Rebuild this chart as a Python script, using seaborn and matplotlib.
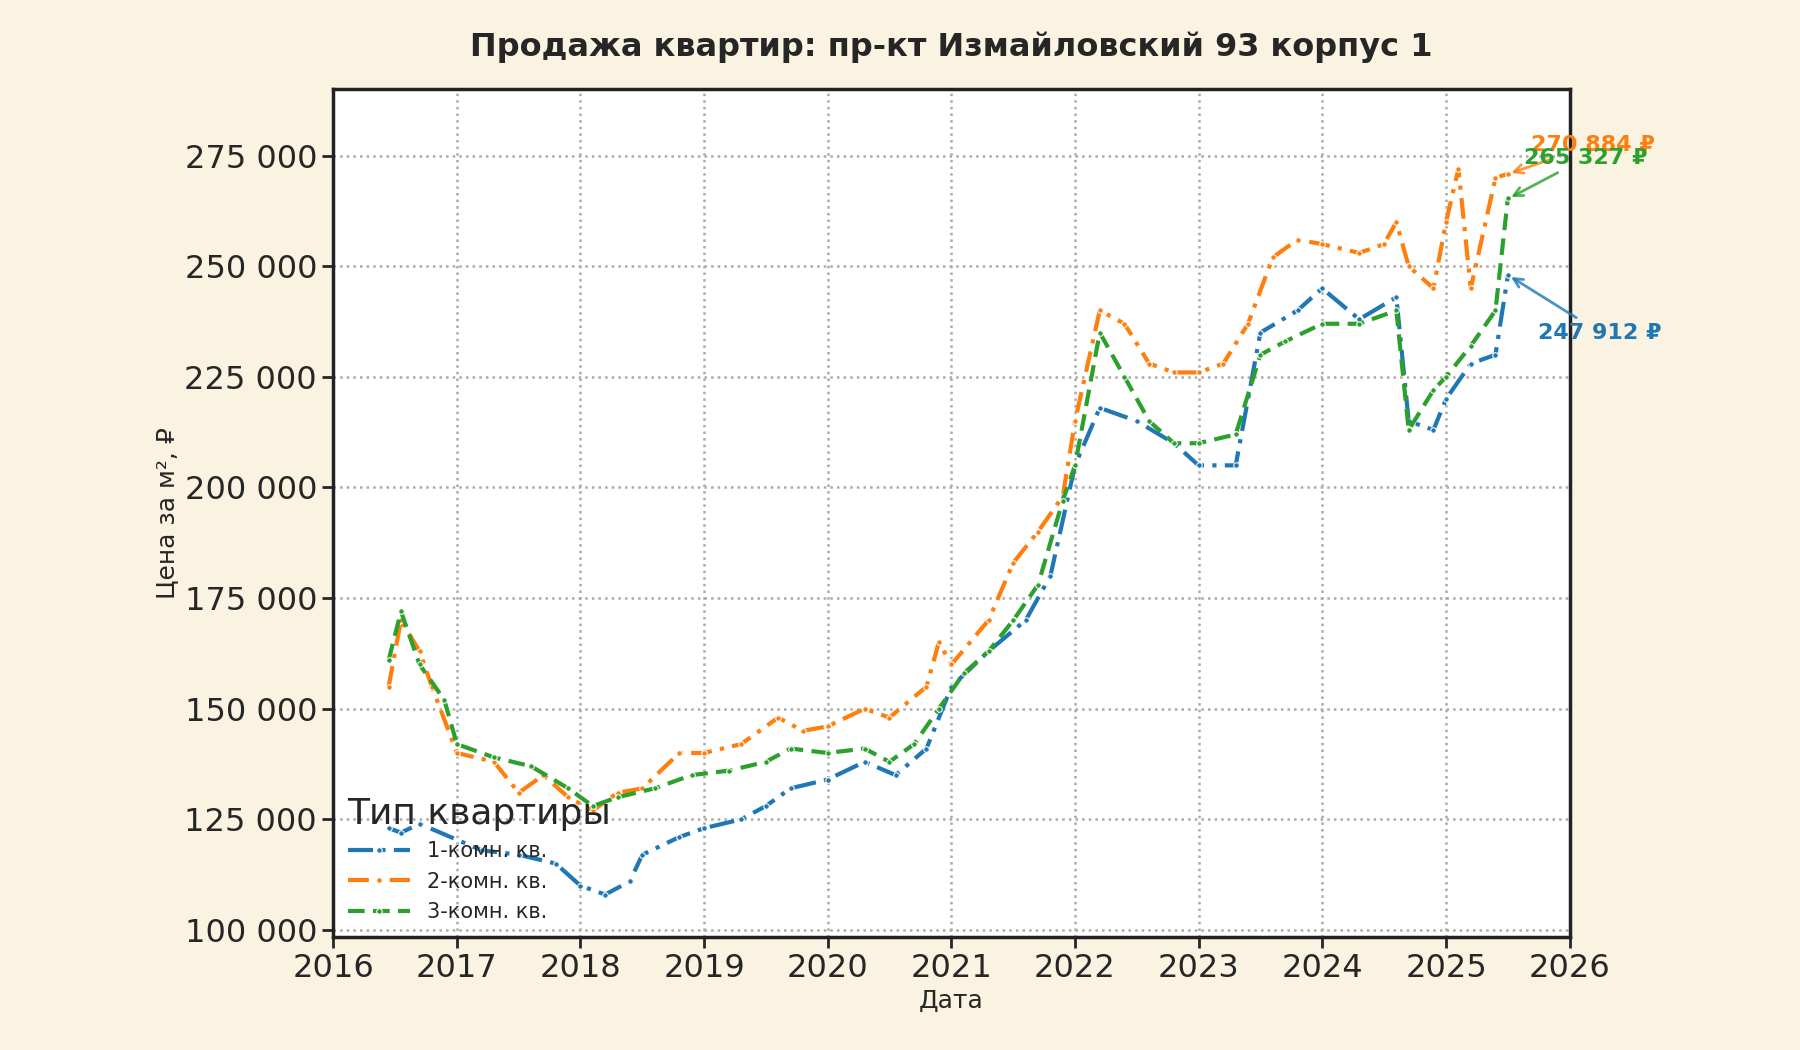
import numpy as np
import pandas as pd
import matplotlib
matplotlib.use("Agg")
import matplotlib.pyplot as plt
import matplotlib.ticker as mticker
import seaborn as sns

t1 = [2016.45,2016.55,2016.7,2017.2,2017.5,2017.8,2018.0,2018.2,2018.4,2018.5,2018.8,2019.0,2019.3,2019.5,2019.7,2020.0,2020.3,2020.55,
      np.nan,2020.8,2021.0,2021.3,2021.6,2021.8,2022.0,2022.2,2022.5,2022.8,2023.0,2023.3,2023.5,2023.8,2024.0,2024.3,2024.6,2024.7,2024.9,2025.0,2025.2,2025.4,2025.5]
v1 = [123,122,124,118,117,115,110,108,111,117,121,123,125,128,132,134,138,135,
      np.nan,141,155,163,170,180,205,218,215,210,205,205,235,240,245,238,243,215,213,220,228,230,247.912]
t2 = [2016.45,2016.55,2016.7,2016.8,2017.0,2017.3,2017.5,2017.7,2017.9,2018.1,2018.3,2018.5,2018.8,2019.0,2019.3,2019.6,2019.8,2020.0,2020.3,2020.5,2020.8,2020.9,2021.0,2021.3,2021.5,2021.7,2021.9,2022.0,2022.2,2022.4,2022.6,2022.8,2023.0,2023.2,2023.4,2023.6,2023.8,2024.0,2024.3,2024.5,2024.6,2024.7,2024.9,2025.0,2025.1,2025.2,2025.4,2025.5]
v2 = [155,170,163,155,140,138,131,135,130,127,131,132,140,140,142,148,145,146,150,148,155,165,160,170,183,190,198,215,240,237,228,226,226,228,237,252,256,255,253,255,260,250,245,260,272,245,270,270.884]
t3 = [2016.45,2016.55,2016.7,2016.9,2017.0,2017.3,2017.6,2017.9,2018.1,2018.3,2018.6,2018.9,2019.2,2019.5,2019.7,2020.0,2020.3,2020.5,2020.7,2020.9,2021.1,2021.3,2021.5,2021.7,2021.9,2022.0,2022.2,2022.4,2022.6,2022.8,2023.0,2023.3,2023.5,2023.7,2024.0,2024.3,2024.6,2024.7,2024.9,2025.0,2025.2,2025.4,2025.5]
v3 = [161,172,160,152,142,139,137,132,128,130,132,135,136,138,141,140,141,138,142,150,158,163,170,178,197,205,235,225,215,210,210,212,230,233,237,237,240,213,222,225,232,240,265.327]
labels = ["1-комн. кв.", "2-комн. кв.", "3-комн. кв."]
colors = ["#1f77b4", "#ff7f0e", "#2ca02c"]

def to_dates(ts):
    out = []
    for t in ts:
        if np.isnan(t):
            out.append(pd.NaT)
        else:
            y = int(t); out.append(pd.Timestamp(year=y, month=1, day=1) + pd.Timedelta(days=(t - y) * 365.25))
    return out

sns.set_theme(style="ticks", context="talk")
plt.rcParams["font.family"] = ["DejaVu Sans"]
fig, ax = plt.subplots(figsize=(18, 10.5), dpi=100)
fig.patch.set_facecolor("#fbf3e1")
ax.set_facecolor("white")

styles = [(0, (6, 2, 1, 2)), (0, (5, 2, 1, 2)), (0, (4, 2))]
for t, v, lab, c, ls in zip([t1, t2, t3], [v1, v2, v3], labels, colors, styles):
    df = pd.DataFrame({"date": to_dates(t), "price": np.array(v, dtype=float) * 1000})
    sns.lineplot(data=df, x="date", y="price", ax=ax, color=c, label=lab, linestyle=ls,
                 linewidth=3, marker="o", markersize=4, estimator=None, sort=False)

ax.set_xlim(pd.Timestamp("2016-01-01"), pd.Timestamp("2026-01-01"))
ax.set_ylim(98500, 290000)
ax.yaxis.set_major_locator(mticker.MultipleLocator(25000))
ax.yaxis.set_major_formatter(mticker.FuncFormatter(lambda x, p: f"{int(x):,}".replace(",", " ")))
ax.xaxis.set_major_locator(matplotlib.dates.YearLocator())
ax.xaxis.set_major_formatter(matplotlib.dates.DateFormatter("%Y"))
ax.grid(True, linestyle=":", color="#aaaaaa", linewidth=1.8)
for s in ax.spines.values():
    s.set_linewidth(2.5); s.set_color("#222222")
ax.tick_params(labelsize=23, length=8, width=2)
ax.set_xlabel("Дата", fontsize=18)
ax.set_ylabel("Цена за м², ₽", fontsize=18)
ax.set_title("Продажа квартир: пр-кт Измайловский 93 корпус 1", fontsize=23, fontweight="bold", pad=24)

end = pd.Timestamp("2025-07-05")
ann = [(247912, 235000, "2025-10-01"), (270884, 277500, "2025-09-10"), (265327, 274500, "2025-08-20")]
for (val, ty, tx), c in zip(ann, colors):
    ax.annotate(f"{val:,} ₽".replace(",", " "), xy=(end, val), xytext=(pd.Timestamp(tx), ty),
                color=c, fontsize=16, fontweight="bold", va="center",
                arrowprops=dict(arrowstyle="->", color=c, lw=2, alpha=0.8))

leg = ax.legend(title="Тип квартиры", loc="lower left", fontsize=15, title_fontsize=26,
                frameon=False, handlelength=3, borderaxespad=0.3)
leg._legend_box.align = "left"
fig.subplots_adjust(left=0.185, right=0.872, top=0.915, bottom=0.108)
fig.savefig("out.png", dpi=100, facecolor=fig.get_facecolor())
